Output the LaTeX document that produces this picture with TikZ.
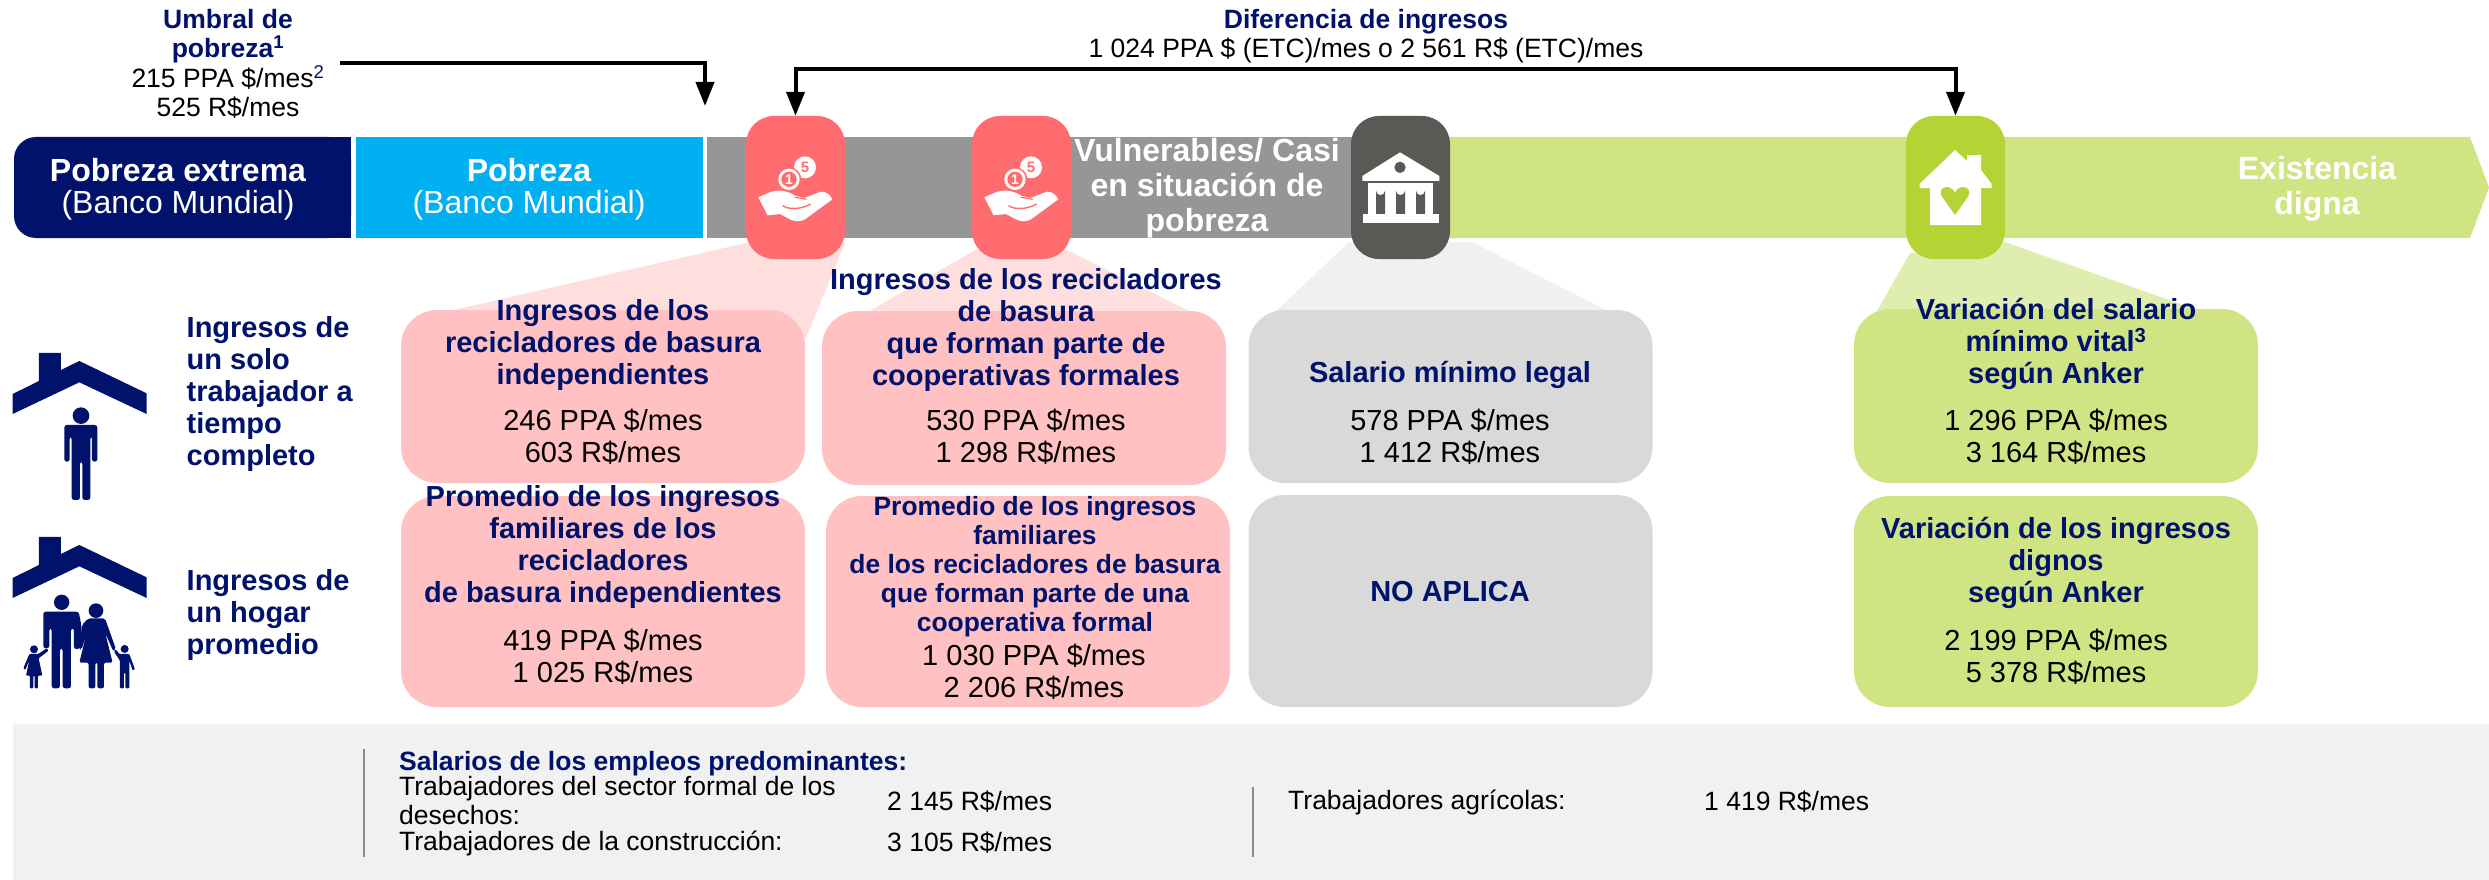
\documentclass[tikz,border=0pt]{standalone}
\usepackage{fontspec}
\setmainfont{Liberation Sans}
\usetikzlibrary{arrows.meta}
\definecolor{navy}{HTML}{00126B}
\definecolor{skyb}{HTML}{00B0F0}
\definecolor{barg}{HTML}{969696}
\definecolor{barl}{HTML}{D1E484}
\definecolor{icr}{HTML}{FF6C70}
\definecolor{icd}{HTML}{595A55}
\definecolor{icg}{HTML}{B5D334}
\definecolor{pinkb}{HTML}{FFC1C1}
\definecolor{pinkt}{HTML}{FFDEDE}
\definecolor{grayb}{HTML}{D9D9D9}
\definecolor{grayt}{HTML}{F0F0EF}
\definecolor{greent}{HTML}{DFEDAE}
\definecolor{band}{HTML}{F1F1F1}
\definecolor{rule}{HTML}{8C8C8C}
\tikzset{
  iconbox/.style={inner sep=0,minimum width=99pt,minimum height=143pt,rounded corners=28pt},
  panel/.style={inner sep=0,minimum width=404pt,rounded corners=36pt},
  txt/.style={inner sep=0,align=center,font=\fontsize{29}{32}\selectfont},
  head/.style={txt,text=navy,font=\fontsize{29}{32}\selectfont\bfseries},
  small/.style={inner sep=0,align=center,font=\fontsize{26.5}{29}\selectfont},
  smallhead/.style={small,text=navy,font=\fontsize{26.5}{29}\selectfont\bfseries},
  smaller/.style={head,font=\fontsize{26.4}{28.9}\selectfont\bfseries},
  bartext/.style={inner sep=0,align=center,text=white,font=\fontsize{32}{34}\selectfont},
  barbold/.style={bartext,font=\fontsize{32}{35}\selectfont\bfseries},
  rowlabel/.style={head,align=left,anchor=west},
  rowtext/.style={small,align=left,anchor=west},
  conn/.style={line width=4pt,-{Triangle[length=24pt,width=18pt]}},
  conn2/.style={line width=4pt,{Triangle[length=24pt,width=18pt]}-{Triangle[length=24pt,width=18pt]}},
  zoomed/.style={x=0.3333pt,y=-0.3333pt},
  rulev/.style={rule,line width=1.6pt},
}
\begin{document}
\begin{tikzpicture}[x=1pt,y=-1pt]
\useasboundingbox (0,0) rectangle (2489,880);
% band
\fill[band] (13,724) rectangle (2489,880);
% bar
\fill[navy,rounded corners=22pt] (351,137) -- (14,137) -- (14,238) -- (351,238) -- cycle;
\fill[navy] (300,137) rectangle (351,238);
\fill[skyb] (356,137) rectangle (703,238);
\fill[barg] (707,137) rectangle (1400,238);
\fill[barl] (1400,137) -- (2470,137) -- (2489,187.5) -- (2470,238) -- (1400,238) -- cycle;
% trapezoids
\fill[pinkt] (746,243) -- (845,243) -- (806,338) -- (450,311) -- cycle;
\fill[pinkt] (975,250) -- (1067,250) -- (1191,312) -- (868,312) -- cycle;
\fill[grayt] (1349,242) -- (1472,242) -- (1608,311) -- (1276,311) -- cycle;
\fill[greent] (1910,253) -- (2005,242) -- (2200,311) -- (1877,311) -- cycle;
% panels
\node[panel,fill=pinkb,minimum height=173pt] (a1) at (603,396.5) {};
\node[panel,fill=pinkb,minimum height=174pt] (b1) at (1024,398) {};
\node[panel,fill=pinkb,minimum height=211pt] (a2) at (603,601.5) {};
\node[panel,fill=pinkb,minimum height=211pt] (b2) at (1028,601.5) {};
\node[panel,fill=grayb,minimum height=173pt] (c1) at (1450.5,396.5) {};
\node[panel,fill=grayb,minimum height=212pt] (c2) at (1450.5,601) {};
\node[panel,fill=barl,minimum height=174pt] (d1) at (2056,396) {};
\node[panel,fill=barl,minimum height=211pt] (d2) at (2056,601.5) {};
% icon boxes
\node[iconbox,fill=icr] (i1) at (795.5,187.5) {};
\node[iconbox,fill=icr] (i2) at (1021.5,187.5) {};
\node[iconbox,fill=icd] (i3) at (1400.5,187.5) {};
\node[iconbox,fill=icg] (i4) at (1955.5,187.5) {};
% hand icons
\foreach \hx in {745,971}{
\begin{scope}[shift={(\hx,140)},zoomed]
  \fill[white] (40,172) -- (72,158) .. controls (95,148) and (125,150) .. (150,167) -- (178,174) -- (228,155) .. controls (245,155) and (255,165) .. (262,178) -- (180,238) .. controls (165,246) and (150,245) .. (135,238) -- (105,222) -- (68,226) -- cycle;
  \draw[icr,line width=1.4pt] (113,197) .. controls (130,210) and (170,208) .. (197,192);
  \draw[icr,line width=1.2pt] (150,172) -- (185,178);
  \fill[white] (180,82) circle (33);
  \fill[icr] (132,118) circle (37);
  \fill[white] (132,118) circle (32);
  \fill[icr] (132,118) circle (23);
  \node[inner sep=0,text=icr,font=\fontsize{15}{15}\selectfont\bfseries] (c\hx a) at (180,82) {5};
  \node[inner sep=0,text=white,font=\fontsize{14}{14}\selectfont\bfseries] (c\hx b) at (132,118) {1};
\end{scope}}
% bank icon
\begin{scope}[shift={(1350,140)},zoomed]
  \fill[white] (150,37) -- (268,108) -- (268,123) -- (37,123) -- (37,108) -- cycle;
  \fill[icd] (150,82) circle (17);
  \fill[white] (55,130) rectangle (250,224);
  \fill[white] (38,222) rectangle (266,250);
  \foreach \ax in {78,138,198}{
    \fill[icd] (\ax,222) -- (\ax,152) arc[start angle=180,end angle=0,radius=13.5] -- (\ax+27,222) -- cycle;
  }
\end{scope}
% house icon
\fill[white] (1955,150) -- (1967,161) -- (1967,155) -- (1981,155) -- (1981,170) -- (1991.6,184) -- (1991.6,188) -- (1981,188) -- (1981,225) -- (1930,225) -- (1930,188) -- (1919.5,188) -- (1919.5,184) -- cycle;
\fill[icg] (1955,215) -- (1943,198) .. controls (1938,191) and (1942,187) .. (1947,187) .. controls (1951,187) and (1954,190) .. (1955,193) .. controls (1956,190) and (1959,187) .. (1963,187) .. controls (1968,187) and (1972,191) .. (1967,198) -- cycle;
% roofs
\begin{scope}[shift={(0,300)},zoomed]
  \foreach \ry in {0,552}{
    \fill[navy] (38,282+\ry) -- (117,243+\ry) -- (117,159+\ry) -- (183,159+\ry) -- (183,210+\ry) -- (238,183+\ry) -- (440,280+\ry) -- (440,342+\ry) -- (238,247+\ry) -- (38,342+\ry) -- cycle;
  }
  % single worker
  \fill[navy] (243,347) circle (25);
  \fill[navy,rounded corners=2.5pt] (193,375) -- (292,375) -- (292,485) -- (276,485) -- (276,410) -- (271,410) -- (271,600) -- (247,600) -- (247,485) -- (240,485) -- (240,600) -- (215,600) -- (215,410) -- (209,410) -- (209,485) -- (193,485) -- cycle;
  % man
  \fill[navy] (185,907) circle (23);
  \fill[navy,rounded corners=2.5pt] (130,935) -- (236,935) -- (244,975) -- (244,1045) -- (222,1048) -- (222,985) -- (213,985) -- (213,1165) -- (188,1165) -- (188,1045) -- (180,1045) -- (180,1165) -- (155,1165) -- (155,985) -- (148,985) -- (148,1045) -- (130,1045) -- cycle;
  % woman
  \fill[navy] (288,932) circle (22);
  \fill[navy,rounded corners=2pt] (265,955) -- (315,955) -- (348,1048) -- (340,1054) -- (316,1000) -- (338,1088) -- (312,1088) -- (312,1165) -- (292,1165) -- (292,1088) -- (286,1088) -- (286,1165) -- (266,1165) -- (266,1088) -- (238,1088) -- (260,1000) -- (245,1048) -- (238,1048) -- (246,975) -- cycle;
  % girl
  \fill[navy] (102,1048) circle (12);
  \fill[navy,rounded corners=1pt] (88,1062) -- (115,1062) -- (140,1045) -- (146,1052) -- (116,1075) -- (127,1127) -- (114,1127) -- (114,1165) -- (104,1165) -- (104,1127) -- (100,1127) -- (100,1165) -- (90,1165) -- (90,1127) -- (78,1127) -- (88,1080) -- (76,1110) -- (70,1105) -- cycle;
  % boy
  \fill[navy] (374,1047) circle (12);
  \fill[navy,rounded corners=1pt] (358,1062) -- (388,1062) -- (405,1108) -- (398,1112) -- (388,1082) -- (388,1165) -- (376,1165) -- (376,1118) -- (372,1118) -- (372,1165) -- (360,1165) -- (360,1082) -- (342,1055) -- (347,1048) -- cycle;
\end{scope}
% connectors
\coordinate (povstart) at (340,63.5);
\coordinate (povend) at (705,106);
\coordinate (diffbend) at (1367,69);
\draw[conn] (povstart) -| (povend);
\draw[conn2] (i1.north) |- (diffbend) -| (i4.north);
% top texts
\node[smallhead] (u1) at (228,36.5) {Umbral de\\pobreza\textsuperscript{1}};
\node[small] (u2) at (228,92) {215 PPA \$/mes\textsuperscript{\textcolor{navy}{2}}\\525 R\$/mes};
\node[smallhead] (df1) at (1366,22) {Diferencia de ingresos};
\node[small] (df2) at (1366,50) {1 024 PPA \$ (ETC)/mes o 2 561 R\$ (ETC)/mes};
% bar texts
\node[barbold] (t1) at (178,170) {Pobreza extrema};
\node[bartext] (t1b) at (178,205) {(Banco Mundial)};
\node[barbold] (t2) at (529,170) {Pobreza};
\node[bartext] (t2b) at (529,205) {(Banco Mundial)};
\node[barbold] (t3) at (1207,188) {Vulnerables/ Casi\\en situación de\\pobreza};
\node[barbold] (t4) at (2317,188.5) {Existencia\\digna};
% row labels
\node[rowlabel] (r1) at (186.5,393.5) {Ingresos de\\un solo\\trabajador a\\tiempo\\completo};
\node[rowlabel] (r2) at (186.5,614.5) {Ingresos de\\un hogar\\promedio};
% panel texts
\node[head] (a1h) at (603,345) {Ingresos de los\\recicladores de basura\\independientes};
\node[txt] (a1v) at (603,437) {246 PPA \$/mes\\603 R\$/mes};
\node[head] (b1h) at (1026,330) {Ingresos de los recicladores\\de basura\\que forman parte de\\cooperativas formales};
\node[txt] (b1v) at (1026,437) {530 PPA \$/mes\\1 298 R\$/mes};
\node[head] (a2h) at (603,546.5) {Promedio de los ingresos\\familiares de los\\recicladores\\de basura independientes};
\node[txt] (a2v) at (603,657) {419 PPA \$/mes\\1 025 R\$/mes};
\node[smaller] (b2h) at (1035,566.5) {Promedio de los ingresos\\familiares\\de los recicladores de basura\\que forman parte de una\\cooperativa formal};
\node[txt] (b2v) at (1034,672) {1 030 PPA \$/mes\\2 206 R\$/mes};
\node[head] (c1h) at (1450,375) {Salario mínimo legal};
\node[txt] (c1v) at (1450,437) {578 PPA \$/mes\\1 412 R\$/mes};
\node[head] (c2h) at (1450,592) {NO APLICA};
\node[head] (d1h) at (2056,344) {Variación del salario\\mínimo vital\textsuperscript{3}\\según Anker};
\node[txt] (d1v) at (2056,437) {1 296 PPA \$/mes\\3 164 R\$/mes};
\node[head] (d2h) at (2056,563) {Variación de los ingresos\\dignos\\según Anker};
\node[txt] (d2v) at (2056,657) {2 199 PPA \$/mes\\5 378 R\$/mes};
% band
\coordinate (rule1a) at (364,749);
\coordinate (rule1b) at (364,857);
\coordinate (rule2a) at (1253,787);
\coordinate (rule2b) at (1253,857);
\draw[rulev] (rule1a) -- (rule1b);
\draw[rulev] (rule2a) -- (rule2b);
\node[smallhead,anchor=west] (s0) at (399,764) {Salarios de los empleos predominantes:};
\node[rowtext] (s1) at (399,800.5) {Trabajadores del sector formal de los\\desechos:};
\node[rowtext] (s2) at (399,843) {Trabajadores de la construcción:};
\node[rowtext] (s3) at (887,802) {2 145 R\$/mes};
\node[rowtext] (s4) at (887,843) {3 105 R\$/mes};
\node[rowtext] (s5) at (1288,802) {Trabajadores agrícolas:};
\node[rowtext] (s6) at (1704,802) {1 419 R\$/mes};
\end{tikzpicture}
\end{document}
